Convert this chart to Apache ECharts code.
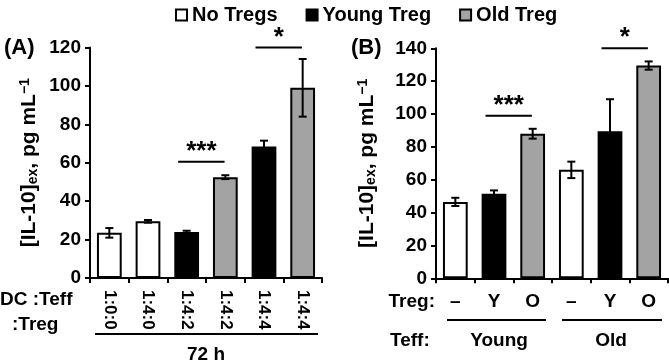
<!DOCTYPE html>
<html><head><meta charset="utf-8">
<script src="https://cdn.jsdelivr.net/npm/echarts@6/dist/echarts.min.js"></script>
<style>html,body{margin:0;padding:0;background:#fff}#c{width:669px;height:364px}</style>
</head><body><div id="c"></div>
<script>
const seriesNames = ['No Tregs', 'Young Treg', 'Old Treg'];
const seriesColors = ['#ffffff', '#000000', '#a3a3a3'];

const catsA = ['1:0:0', '1:4:0', '1:4:2', '1:4:2', '1:4:4', '1:4:4'];
const groupA = [0, 0, 1, 2, 1, 2];
const meanA = [23.5, 29.5, 24, 52.5, 68.5, 99];
const errA = [2.5, 0.7, 0.6, 1, 3, 15];
const yTicksA = { min: 0, max: 120, interval: 20 };
const sigA = [[2, 3, 60.5, '***'], [4, 5, 120, '*']];

const catsB = ['–', 'Y', 'O', '–', 'Y', 'O'];
const groupB = [0, 1, 2, 0, 1, 2];
const meanB = [46.5, 51.5, 88, 66, 89.5, 129.5];
const errB = [2.5, 2, 3, 5, 19.5, 2.5];
const yTicksB = { min: 0, max: 140, interval: 20 };
const sigB = [[1, 2, 99, '***'], [4, 5, 140, '*']];

const FF = '"Liberation Sans", Arial, sans-serif';
const chart = echarts.init(document.getElementById('c'), null, { renderer: 'canvas' });

function errRender(params, api) {
  const x = api.value(0), m = api.value(1), e = api.value(2);
  const t = api.coord([x, m + e]), b = api.coord([x, m - e]);
  const cw = 4, st = { stroke: '#000', lineWidth: 2 };
  return { type: 'group', children: [
    { type: 'line', shape: { x1: t[0], y1: t[1], x2: b[0], y2: b[1] }, style: st },
    { type: 'line', shape: { x1: t[0] - cw, y1: t[1], x2: t[0] + cw, y2: t[1] }, style: st },
    { type: 'line', shape: { x1: b[0] - cw, y1: b[1], x2: b[0] + cw, y2: b[1] }, style: st }
  ] };
}
function sigRenderFactory(sig) {
  return function (params, api) {
    const a = api.coord([api.value(0), api.value(2)]);
    const b = api.coord([api.value(1), api.value(2)]);
    const bw = api.size([1, 0])[0];
    const x1 = a[0] - 0.22 * bw, x2 = b[0] - 0.02 * bw;
    return { type: 'group', children: [
      { type: 'line', shape: { x1: x1, y1: a[1], x2: x2, y2: a[1] }, style: { stroke: '#000', lineWidth: 2 } },
      { type: 'text', x: (x1 + x2) / 2, y: a[1] - 10, style: { text: sig[params.dataIndex][3], fill: '#000', font: 'bold 26px ' + FF, textAlign: 'center', textVerticalAlign: 'middle' } }
    ] };
  };
}

const yName = '[IL-10]{sub|ex}, pg mL{sup|−1}';
const nameStyle = {
  fontSize: 21, fontWeight: 'bold', color: '#000', fontFamily: FF,
  rich: {
    sub: { fontSize: 14, fontWeight: 'bold', fontFamily: FF, color: '#000', verticalAlign: 'bottom', padding: [8, 0, 0, 0] },
    sup: { fontSize: 14, fontWeight: 'bold', fontFamily: FF, color: '#000', verticalAlign: 'top', padding: [0, 0, 8, 0] }
  }
};
function yAxis(idx, ticks, gap) {
  return {
    type: 'value', gridIndex: idx, min: ticks.min, max: ticks.max, interval: ticks.interval,
    name: yName, nameLocation: 'middle', nameGap: gap, nameTextStyle: nameStyle,
    axisLine: { show: true, lineStyle: { color: '#000', width: 2 } },
    axisTick: { show: true, length: 5, lineStyle: { color: '#000', width: 2 } },
    splitLine: { show: false },
    axisLabel: { color: '#000', fontSize: 19, fontWeight: 'bold', fontFamily: FF, margin: 9 }
  };
}
function xAxis(idx, cats, label) {
  return {
    type: 'category', gridIndex: idx, data: cats,
    axisLine: { show: true, lineStyle: { color: '#000', width: 2 } },
    axisTick: { show: true, length: 5, alignWithLabel: false, lineStyle: { color: '#000', width: 2 } },
    axisLabel: Object.assign({ interval: 0, color: '#000', fontWeight: 'bold', fontFamily: FF }, label)
  };
}

const series = [];
[[meanA, groupA, 0], [meanB, groupB, 1]].forEach(([means, groups, gi]) => {
  seriesNames.forEach((nm, s) => {
    series.push({
      type: 'bar', name: nm, xAxisIndex: gi, yAxisIndex: gi, stack: 'g' + gi, barWidth: '64%',
      itemStyle: { color: seriesColors[s], borderColor: '#000', borderWidth: 2 },
      data: means.map((v, i) => groups[i] === s ? v : '-'), z: 2
    });
  });
});
series.push({ type: 'custom', xAxisIndex: 0, yAxisIndex: 0, renderItem: errRender, z: 5, clip: false,
  data: meanA.map((v, i) => [i, v, errA[i]]) });
series.push({ type: 'custom', xAxisIndex: 1, yAxisIndex: 1, renderItem: errRender, z: 5, clip: false,
  data: meanB.map((v, i) => [i, v, errB[i]]) });
series.push({ type: 'custom', xAxisIndex: 0, yAxisIndex: 0, renderItem: sigRenderFactory(sigA), z: 5, clip: false,
  data: sigA.map(r => [r[0], r[1], r[2]]) });
series.push({ type: 'custom', xAxisIndex: 1, yAxisIndex: 1, renderItem: sigRenderFactory(sigB), z: 5, clip: false,
  data: sigB.map(r => [r[0], r[1], r[2]]) });

const tf = 'bold 19px ' + FF;
function txt(t, x, y, align, font) {
  return { type: 'text', x: x, y: y, style: { text: t, fill: '#000', font: font || tf, textAlign: align || 'left', textVerticalAlign: 'middle' } };
}
function hline(x1, x2, y) {
  return { type: 'line', shape: { x1: x1, y1: y, x2: x2, y2: y }, style: { stroke: '#000', lineWidth: 2 } };
}

chart.setOption({
  animation: false,
  backgroundColor: '#fff',
  textStyle: { fontFamily: FF },
  legend: {
    data: seriesNames, left: 170, top: 0, itemWidth: 11, itemHeight: 11, itemGap: 28, icon: 'rect',
    textStyle: { fontSize: 20, fontWeight: 'bold', color: '#000', fontFamily: FF }
  },
  grid: [
    { left: 90, top: 47.5, width: 232, height: 230.5 },
    { left: 436, top: 48.3, width: 232, height: 230 }
  ],
  xAxis: [
    xAxis(0, catsA, { rotate: -90, fontSize: 17, margin: 12 }),
    xAxis(1, catsB, { fontSize: 19, margin: 14 })
  ],
  yAxis: [yAxis(0, yTicksA, 50), yAxis(1, yTicksB, 58)],
  series: series,
  graphic: [
    txt('(A)', 4, 48, 'left', 'bold 22px ' + FF),
    txt('(B)', 351, 48, 'left', 'bold 22px ' + FF),
    txt('DC :Teff', 0, 300),
    txt(':Treg', 12, 325),
    hline(95, 318, 334),
    txt('72 h', 206, 355, 'center'),
    txt('Treg:', 435, 302, 'right'),
    txt('Teff:', 390, 341),
    hline(447, 546, 320),
    hline(562, 662, 320),
    txt('Young', 499, 341, 'center'),
    txt('Old', 611, 341, 'center')
  ]
});
</script></body></html>
